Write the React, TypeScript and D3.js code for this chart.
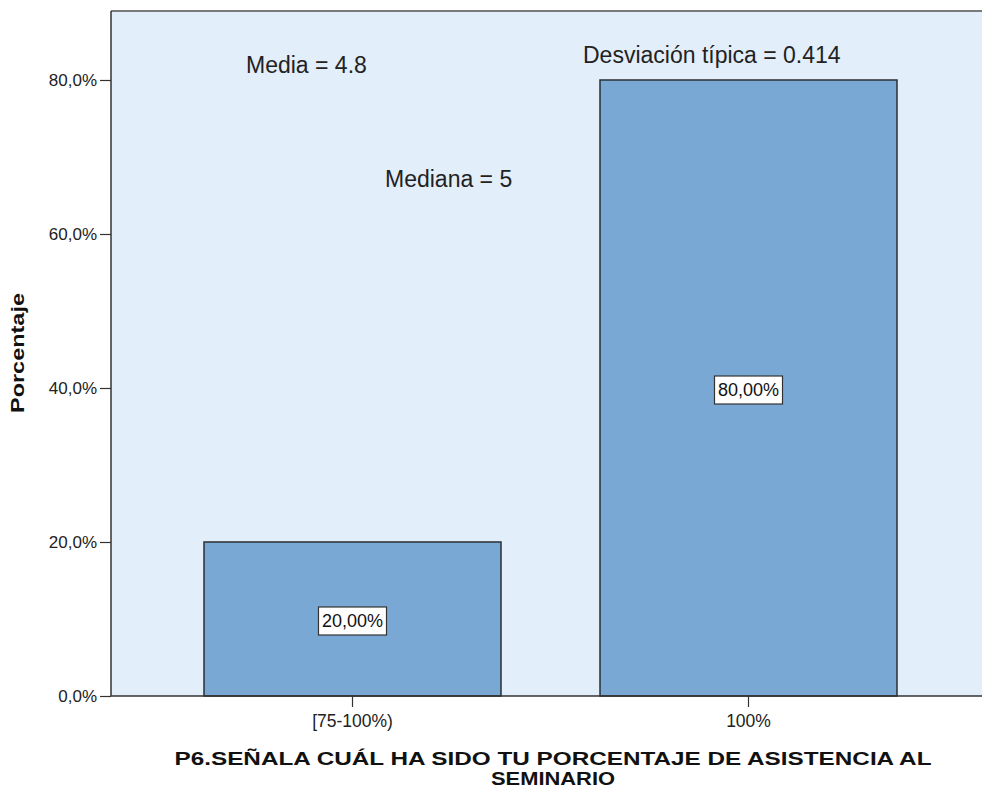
import { useEffect, useRef } from "react"
import * as d3 from "d3"

const categories = ["[75-100%)", "100%"]
const percentages = [20, 80]
const valueLabels = ["20,00%", "80,00%"]
const yTicks = [0, 20, 40, 60, 80]
const statNotes = [
  { text: "Media = 4.8", x: 246, y: 73 },
  { text: "Mediana = 5", x: 385, y: 187 },
  { text: "Desviación típica = 0.414", x: 583, y: 63 },
]
const xTitle = ["P6.SEÑALA CUÁL HA SIDO TU PORCENTAJE DE ASISTENCIA AL", "SEMINARIO"]

export default function App() {
  const svgRef = useRef<SVGSVGElement>(null)

  useEffect(() => {
    if (!svgRef.current) return
    const svg = d3.select(svgRef.current)
    svg.selectAll("*").remove()

    const width = 982
    const height = 792
    const left = 111
    const top = 11
    const bottom = 696
    const font = "'Liberation Sans', Arial, sans-serif"

    const x = d3
      .scaleBand()
      .domain(categories)
      .range([154.5, 946.5])
      .paddingInner(0.25)
      .paddingOuter(0.125)

    const y = d3.scaleLinear().domain([0, 88.96]).range([bottom, top])

    svg.attr("width", width).attr("height", height)

    // plot background
    svg
      .append("rect")
      .attr("x", left)
      .attr("y", top)
      .attr("width", width - left)
      .attr("height", bottom - top)
      .attr("fill", "#e2eefa")

    // top border
    svg
      .append("line")
      .attr("x1", left)
      .attr("x2", width)
      .attr("y1", top)
      .attr("y2", top)
      .attr("stroke", "#7a7a7a")
      .attr("stroke-width", 2)

    // bars
    svg
      .selectAll(".bar")
      .data(percentages)
      .enter()
      .append("rect")
      .attr("class", "bar")
      .attr("x", (_, i) => x(categories[i]) || 0)
      .attr("y", (d) => y(d))
      .attr("width", x.bandwidth())
      .attr("height", (d) => bottom - y(d))
      .attr("fill", "#79a8d5")
      .attr("stroke", "#2b2f33")
      .attr("stroke-width", 1.5)

    // value label boxes
    const lbl = svg
      .selectAll(".vlabel")
      .data(percentages)
      .enter()
      .append("g")
      .attr("class", "vlabel")
      .attr(
        "transform",
        (d, i) => `translate(${(x(categories[i]) || 0) + x.bandwidth() / 2},${y(d / 2) + 2})`
      )
    lbl
      .append("rect")
      .attr("x", -34)
      .attr("y", -14)
      .attr("width", 68)
      .attr("height", 28)
      .attr("fill", "#ffffff")
      .attr("stroke", "#333")
      .attr("stroke-width", 1.2)
    lbl
      .append("text")
      .attr("text-anchor", "middle")
      .attr("dy", "0.36em")
      .attr("font-family", font)
      .attr("font-size", 18)
      .attr("fill", "#111")
      .text((_, i) => valueLabels[i])

    // y axis
    const yAxis = svg
      .append("g")
      .attr("transform", `translate(${left},0)`)
      .call(
        d3
          .axisLeft(y)
          .tickValues(yTicks)
          .tickSize(11)
          .tickPadding(3)
          .tickFormat((d) => `${d},0%`)
      )
    yAxis.select(".domain").attr("d", `M0,${top}V${bottom}`).attr("stroke", "#333").attr("stroke-width", 1.5)
    yAxis.selectAll("line").attr("stroke", "#333").attr("stroke-width", 1.2)
    yAxis
      .selectAll("text")
      .attr("font-family", font)
      .attr("font-size", 17)
      .attr("fill", "#222")

    // x axis
    const xAxis = svg
      .append("g")
      .attr("transform", `translate(0,${bottom})`)
      .call(d3.axisBottom(x).tickSize(11).tickSizeOuter(0))
    xAxis.select(".domain").attr("d", `M${left},0H${width}`).attr("stroke", "#333").attr("stroke-width", 1.5)
    xAxis.selectAll("line").attr("stroke", "#333").attr("stroke-width", 1.2)
    xAxis
      .selectAll("text")
      .attr("font-family", font)
      .attr("font-size", 17.5)
      .attr("fill", "#222")
      .attr("y", 19)

    // stat notes
    svg
      .selectAll(".note")
      .data(statNotes)
      .enter()
      .append("text")
      .attr("x", (d) => d.x)
      .attr("y", (d) => d.y)
      .attr("font-family", font)
      .attr("font-size", 23)
      .attr("fill", "#222")
      .text((d) => d.text)

    // axis titles
    svg
      .append("text")
      .attr("transform", `translate(24,353) rotate(-90)`)
      .attr("text-anchor", "middle")
      .attr("font-family", font)
      .attr("font-size", 18)
      .attr("font-weight", "bold")
      .attr("fill", "#111")
      .attr("textLength", 120)
      .attr("lengthAdjust", "spacingAndGlyphs")
      .text("Porcentaje")

    const titleLengths = [757, 124]
    svg
      .selectAll(".xtitle")
      .data(xTitle)
      .enter()
      .append("text")
      .attr("x", 553)
      .attr("y", (_, i) => 765 + i * 20)
      .attr("text-anchor", "middle")
      .attr("font-family", font)
      .attr("font-size", 19)
      .attr("font-weight", "bold")
      .attr("fill", "#111")
      .attr("textLength", (_, i) => titleLengths[i])
      .attr("lengthAdjust", "spacingAndGlyphs")
      .text((d) => d)
  }, [])

  return (
    <div style={{ position: "absolute", left: 0, top: 0 }}>
      <svg ref={svgRef} />
    </div>
  )
}
